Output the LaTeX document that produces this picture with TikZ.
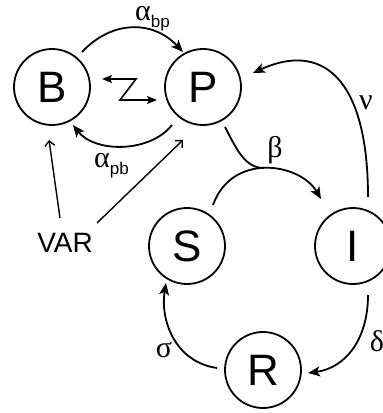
\documentclass[tikz,border=0pt]{standalone}
\usepackage{fontspec}
\setmainfont{Liberation Sans}
\newfontfamily\greekfont{Liberation Serif}
\usetikzlibrary{arrows.meta,calc}
\newcommand\ratesub[1]{\raisebox{-7pt}{\normalfont\fontsize{17}{17}\selectfont #1}}

\begin{document}
\begin{tikzpicture}[x=1pt,y=-1pt,
  state/.style={circle,draw,line width=1.8pt,minimum size=76pt,inner sep=0pt,outer sep=0pt,
    font=\fontsize{44}{44}\selectfont},
  flow/.style={line width=1.8pt,-{Stealth[length=12pt,width=10pt,inset=3pt]}},
  plain/.style={line width=1.8pt},
  pointer/.style={line width=1.4pt,-{Straight Barb[length=5pt,width=10pt]}},
  swap/.style={line width=1.6pt,
    {Stealth[length=10pt,width=8pt,inset=2pt]}-{Stealth[length=10pt,width=8pt,inset=2pt]}},
  rate/.style={font=\greekfont\fontsize{30}{30}\selectfont,inner sep=0pt},
]
\useasboundingbox (0,0) rectangle (383,413);

% compartments
\node[state] (B) at (52,87) {B};
\node[state] (P) at (203,87) {P};
\node[state] (S) at (187,246) {S};
\node[state] (I) at (353,246) {I};
\node[state] (R) at (263,370) {R};
\node[font=\fontsize{28}{28}\selectfont,inner sep=0pt] (VAR) at (65,243) {VAR};

% B <-> P exchange
\draw[flow] ($(B)+(30,-35)$) .. controls (112,20) and (153,20) .. ($(P)+(-20,-35)$);
\draw[flow] ($(P)+(-31,38)$) .. controls (150,153) and (95,153) .. ($(B)+(21,38)$);
\coordinate (zl) at (102,79);
\coordinate (zr) at (157,100);
\draw[swap] (zl) -- (136,79) -- (120,100) -- (zr);

% VAR influences
\draw[pointer] ($(VAR)+(-5,-25)$) -- ($(B)+(-3,53)$);
\draw[pointer] ($(VAR)+(32,-20)$) -- ($(P)+(-20,53)$);

% infection: S meets P, goes to I
\coordinate (join) at (264,168);
\draw[plain] ($(P)+(22,40)$) .. controls (237,150) and (245,168) .. (join);
\draw[flow] ($(S)+(26,-41)$) .. controls (232,152) and (300,163) .. ($(I)+(-32,-47)$);

% shedding, recovery, waning
\draw[flow] ($(I)+(15,-49)$) .. controls (368,75) and (320,42) .. ($(P)+(50,-14)$);
\draw[flow] ($(I)+(15,49)$) .. controls (368,340) and (345,368) .. ($(R)+(45,3)$);
\draw[flow] ($(R)+(-46,-2)$) .. controls (175,362) and (160,320) .. ($(S)+(-21,37)$);

% rate labels
\node[rate,anchor=base west,text height=14pt,text depth=8pt] (abp) at (135,20) {α\ratesub{bp}};
\node[rate,anchor=base west,text height=14pt,text depth=8pt] (apb) at (94,167) {α\ratesub{pb}};
\node[rate] (beta) at (275,150) {β};
\node[rate] (nu) at (366,103) {ν};
\node[rate] (sigma) at (164,350) {σ};
\node[rate] (delta) at (377,341) {δ};
\end{tikzpicture}
\end{document}
